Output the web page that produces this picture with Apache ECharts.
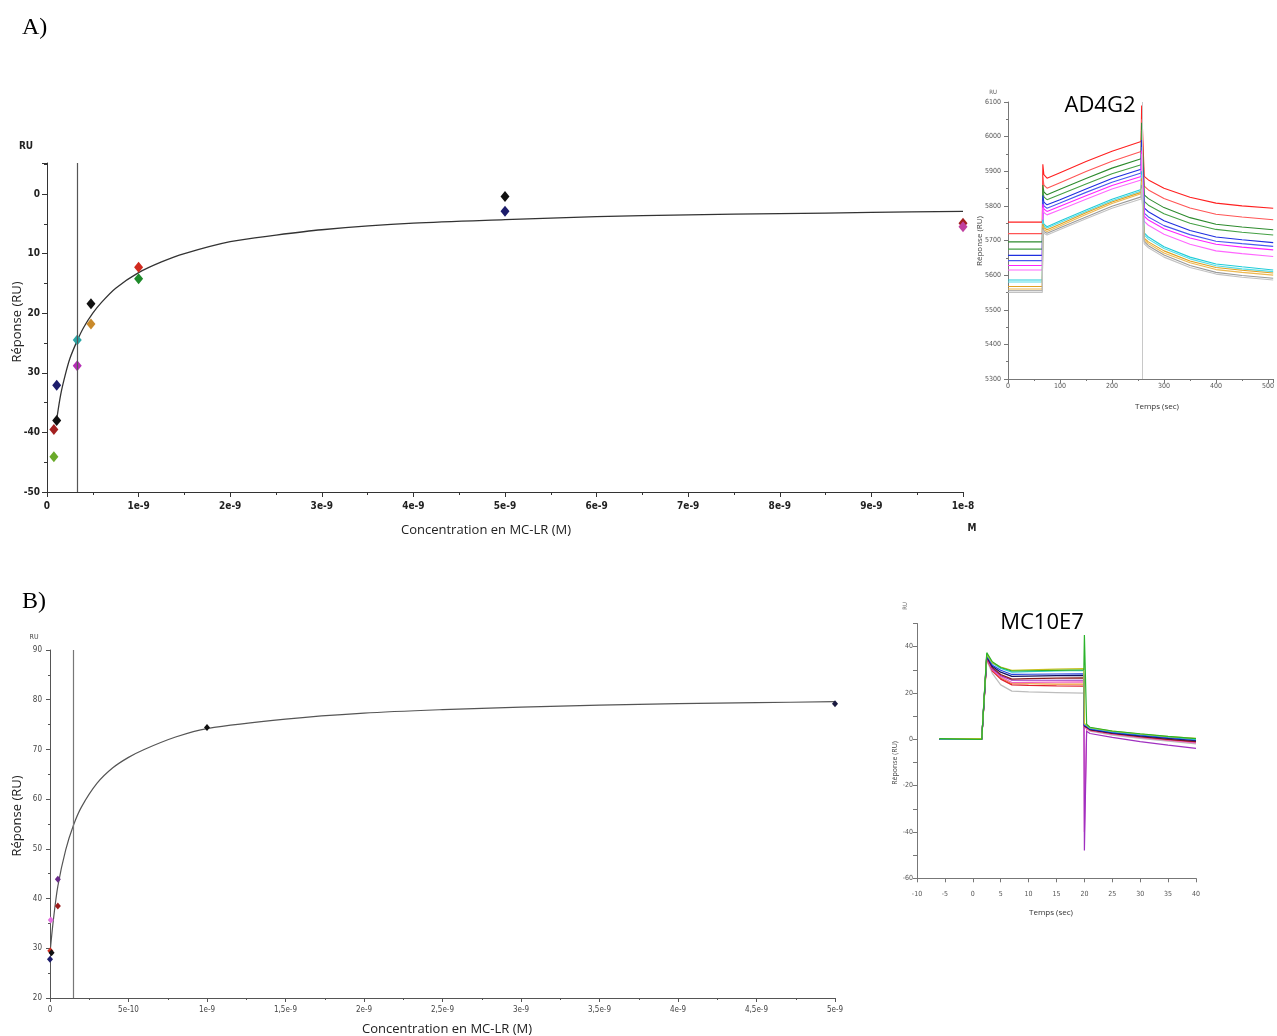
<!DOCTYPE html>
<html>
<head>
<meta charset="utf-8">
<script src="https://cdn.jsdelivr.net/npm/echarts@6/dist/echarts.min.js"></script>
<style>
html,body{margin:0;padding:0;background:#fff;}
#c{width:1277px;height:1036px;}
</style>
</head>
<body>
<div id="c"></div>
<script>
// ---------- Panel A (AD4G2) : steady-state affinity ----------
const aConc = [0.075, 0.075, 0.106, 0.106, 0.33, 0.33, 0.48, 0.48, 1, 1, 5, 5, 10, 10]; // nM
const aResp = [-44.1, -39.5, -38.0, -32.1, -28.8, -24.5, -18.4, -21.8, -12.3, -14.2, -0.4, -2.9, -4.9, -5.5];
const aPointColors = ['#6aaa2a','#a31f1f','#111111','#1c1c6b','#b52fb5','#2aa5a5','#111111','#c98a2b','#d12a1e','#1e8a2a','#111111','#1c1c6b','#a31f1f','#c040a0'];
const aFitX = [0.106, 0.15, 0.2, 0.25, 0.33, 0.4, 0.5, 0.6, 0.75, 1.0, 1.25, 1.5, 2.0, 2.5, 3.0, 4.0, 5.0, 6.0, 7.0, 8.0, 9.0, 10.0];
const aFitY = [-37.8, -33.6, -30.3, -27.6, -24.6, -22.4, -20.0, -18.1, -15.8, -13.2, -11.4, -10.0, -8.0, -6.9, -6.0, -4.9, -4.3, -3.8, -3.5, -3.3, -3.1, -2.9];
const aKD = 0.33;
const aXTickVals = [0,1,2,3,4,5,6,7,8,9,10];
const aXTickLabels = ['0','1e-9','2e-9','3e-9','4e-9','5e-9','6e-9','7e-9','8e-9','9e-9','1e-8'];
const aYTickVals = [0,-10,-20,-30,-40,-50];
const aYTickLabels = ['0','10','20','30','-40','-50'];

// ---------- Panel A sensorgram (AD4G2) ----------
const sgATime = [0, 66, 67, 69, 75, 100, 150, 200, 256, 257, 262, 270, 300, 350, 400, 450, 510];
const sgA1  = [5753,5753,5920,5890,5880,5896,5928,5958,5986,6090,5885,5875,5851,5825,5808,5800,5793];
const sgA2  = [5720,5720,5885,5860,5851,5867,5899,5929,5957,6050,5857,5846,5821,5794,5776,5768,5760];
const sgA3  = [5696,5696,5860,5840,5832,5848,5879,5909,5936,6040,5832,5821,5795,5766,5747,5739,5731];
const sgA4  = [5675,5675,5845,5826,5818,5833,5863,5893,5919,6020,5813,5802,5777,5750,5732,5724,5716];
const sgA5  = [5657,5657,5830,5811,5803,5818,5849,5879,5906,5990,5794,5783,5757,5729,5710,5702,5694];
const sgA6  = [5642,5642,5815,5800,5793,5808,5839,5868,5895,5970,5779,5768,5743,5717,5698,5691,5683];
const sgA7  = [5628,5628,5805,5791,5784,5799,5829,5859,5885,5960,5770,5759,5734,5707,5689,5681,5673];
const sgA8  = [5615,5615,5795,5781,5774,5789,5819,5849,5875,5950,5755,5744,5718,5689,5670,5662,5654];
const sgA9  = [5586,5586,5760,5747,5740,5756,5788,5819,5847,5900,5722,5710,5682,5652,5632,5624,5615];
const sgA10 = [5580,5580,5755,5742,5736,5752,5784,5815,5843,5890,5716,5704,5677,5647,5627,5618,5610];
const sgA11 = [5567,5567,5748,5737,5731,5747,5780,5811,5839,5880,5707,5696,5670,5641,5622,5614,5606];
const sgA12 = [5560,5560,5742,5731,5726,5742,5775,5807,5835,5870,5702,5691,5664,5636,5616,5608,5600];
const sgA13 = [5555,5555,5737,5726,5721,5737,5768,5799,5826,5860,5697,5685,5658,5628,5608,5599,5591];
const sgA14 = [5550,5550,5732,5721,5716,5732,5763,5793,5820,5850,5690,5679,5652,5622,5603,5594,5586];
const sgACurves = [sgA1,sgA2,sgA3,sgA4,sgA5,sgA6,sgA7,sgA8,sgA9,sgA10,sgA11,sgA12,sgA13,sgA14];
const sgAColors = ['#ff2020','#ff5555','#2e8b2e','#45a045','#1f2fe0','#4a58f0','#ff22ff','#ff66ff','#20ccd8','#55dde5','#e0a020','#ecb850','#9a9a9a','#c2c2c2'];
const sgAInjEnd = 258;
const sgAXTickVals = [0,100,200,300,400,500];
const sgAXTickLabels = ['0','100','200','300','400','500'];
const sgAYTickVals = [5300,5400,5500,5600,5700,5800,5900,6000,6100];
const sgAYTickLabels = ['5300','5400','5500','5600','5700','5800','5900','6000','6100'];

// ---------- Panel B (MC10E7) : steady-state affinity ----------
const bConc = [0.0, 0.002, 0.01, 0.005, 0.05, 0.05, 1, 5]; // nM
const bResp = [27.8, 29.5, 29.1, 35.7, 43.9, 38.5, 74.4, 79.2];
const bPointColors = ['#1c1c6b','#d12a1e','#111111','#e36fe0','#6a2a8a','#9b1c1c','#111111','#1a1a40'];
const bFitX = [0, 0.02, 0.05, 0.1, 0.15, 0.2, 0.3, 0.4, 0.5, 0.6, 0.8, 1.0, 1.5, 2.0, 2.5, 3.0, 3.5, 4.0, 4.5, 5.0];
const bFitY = [29.0, 35.3, 42.5, 49.8, 54.8, 58.4, 63.2, 66.3, 68.4, 70.0, 72.5, 74.2, 76.1, 77.3, 78.0, 78.5, 78.9, 79.2, 79.4, 79.6];
const bKD = 0.15;
const bXTickVals = [0,0.5,1,1.5,2,2.5,3,3.5,4,4.5,5];
const bXTickLabels = ['0','5e-10','1e-9','1,5e-9','2e-9','2,5e-9','3e-9','3,5e-9','4e-9','4,5e-9','5e-9'];
const bYTickVals = [20,30,40,50,60,70,80,90];
const bYTickLabels = ['20','30','40','50','60','70','80','90'];

// ---------- Panel B sensorgram (MC10E7) ----------
const sgBTime = [-6, 1.6, 2.5, 3.5, 5, 7, 10, 15, 19.9, 20, 20.4, 21, 25, 30, 35, 40];
const sgB1  = [0.3,0,37.4,33.5,31.0,29.5,29.6,29.8,30.0,45.0,6.5,5.2,3.6,2.4,1.3,0.3];
const sgB2  = [0.3,0.3,36.8,33.0,31.2,29.8,30.0,30.3,30.5,6.8,6.2,5.0,3.5,2.3,1.2,0.4];
const sgB3  = [0.2,0.2,36.5,32.8,30.6,29.0,29.2,29.5,29.7,6.5,6.0,4.8,3.3,2.1,1.0,0.0];
const sgB4  = [0,0,36.2,32.0,29.8,28.0,28.1,28.2,28.3,6.2,5.6,4.5,3.0,1.8,0.7,-0.3];
const sgB5  = [0,0,36.0,31.5,29.0,27.2,27.3,27.5,27.6,6.0,5.4,4.3,2.8,1.5,0.4,-0.6];
const sgB6  = [0,0,35.5,31.0,28.0,26.0,26.2,26.4,26.5,5.8,5.2,4.1,2.5,1.2,0.0,-1.0];
const sgB7  = [0,0,35.3,30.5,27.5,25.5,25.5,25.5,25.5,-48.0,3.5,2.5,0.8,-1.0,-2.5,-3.9];
const sgB8  = [0,0,35.0,30.0,27.0,24.5,24.6,24.7,24.8,-40.0,4.8,3.8,2.2,0.8,-0.4,-1.5];
const sgB9  = [0,0,34.8,29.5,26.0,23.5,23.3,23.1,23.0,5.5,5.0,3.9,2.3,0.9,-0.3,-1.2];
const sgB10 = [0,0,35.0,30.0,26.5,24.0,24.0,23.8,23.8,5.5,5.1,4.0,2.4,1.0,-0.2,-1.0];
const sgB11 = [0,0,34.0,28.5,23.5,20.8,20.5,20.2,19.9,5.0,4.6,3.5,1.8,0.4,-0.8,-2.0];
const sgBCurves = [sgB11,sgB10,sgB9,sgB8,sgB7,sgB6,sgB5,sgB4,sgB3,sgB2,sgB1];
const sgBColors = ['#bdbdbd','#f09030','#e02030','#f060c0','#a030c0','#8b1a1a','#101060','#2040e0','#30c8d8','#c8c020','#2bb32b'];
const sgBXTickVals = [-10,-5,0,5,10,15,20,25,30,35,40];
const sgBXTickLabels = ['-10','-5','0','5','10','15','20','25','30','35','40'];
const sgBYTickVals = [-60,-40,-20,0,20,40];
const sgBYTickLabels = ['-60','-40','-20','0','20','40'];

// ---------- helpers ----------
function lookup(vals, labels) {
  return function (v) {
    for (let i = 0; i < vals.length; i++) if (Math.abs(vals[i] - v) < 1e-6) return labels[i];
    return '';
  };
}
function zip(xs, ys) { return xs.map((x, i) => [x, ys[i]]); }

const chart = echarts.init(document.getElementById('c'), null, {renderer: 'canvas'});

const narrow = '"Liberation Sans Narrow","DejaVu Sans Condensed","Liberation Sans",sans-serif';
const sans = '"Open Sans","Noto Sans",sans-serif';

function axisCommon(color, tickLen, minorLen, labelSize, labelColor, margin, bold) {
  return {
    axisLine: {show: true, onZero: false, lineStyle: {color: color, width: 1}},
    axisTick: {show: true, length: tickLen, lineStyle: {color: color}},
    minorTick: {show: true, splitNumber: 2, length: minorLen, lineStyle: {color: color}},
    splitLine: {show: false},
    axisLabel: {fontSize: labelSize, color: labelColor, margin: margin, fontFamily: narrow, fontWeight: bold ? 'bold' : 'normal'}
  };
}

const grids = [
  {left: 47, top: 163, width: 916, height: 329},
  {left: 1008, top: 102, width: 269, height: 277},
  {left: 50, top: 650, width: 785, height: 348},
  {left: 917, top: 623.5, width: 279, height: 254.8}
];

function mkAxis(base, extra, fmt) {
  const o = Object.assign({}, base, extra);
  o.axisLabel = Object.assign({}, base.axisLabel, {formatter: fmt});
  return o;
}

const xAxes = [
  mkAxis(axisCommon('#333', 5, 3, 10, '#222', 9, true), {type: 'value', gridIndex: 0, min: 0, max: 10, interval: 1}, lookup(aXTickVals, aXTickLabels)),
  mkAxis(axisCommon('#777', 4, 2, 7, '#555', 4, false), {type: 'value', gridIndex: 1, min: 0, max: 510, interval: 100}, lookup(sgAXTickVals, sgAXTickLabels)),
  mkAxis(axisCommon('#555', 4, 2, 8, '#444', 8, false), {type: 'value', gridIndex: 2, min: 0, max: 5, interval: 0.5}, lookup(bXTickVals, bXTickLabels)),
  mkAxis(axisCommon('#777', 4, 2, 7, '#555', 12, false), {type: 'value', gridIndex: 3, min: -10, max: 40, interval: 5}, lookup(sgBXTickVals, sgBXTickLabels))
];
xAxes[3].minorTick.show = false;
const yAxes = [
  mkAxis(axisCommon('#333', 5, 3, 10, '#222', 7, true), {type: 'value', gridIndex: 0, min: -50, max: 5.2, interval: 10}, lookup(aYTickVals, aYTickLabels)),
  mkAxis(axisCommon('#777', 4, 2, 7, '#555', 7, false), {type: 'value', gridIndex: 1, min: 5300, max: 6100, interval: 100}, lookup(sgAYTickVals, sgAYTickLabels)),
  mkAxis(axisCommon('#555', 4, 2, 8, '#444', 8, false), {type: 'value', gridIndex: 2, min: 20, max: 90, interval: 10}, lookup(bYTickVals, bYTickLabels)),
  mkAxis(axisCommon('#777', 4, 2, 7, '#555', 4, false), {type: 'value', gridIndex: 3, min: -60, max: 50, interval: 10}, lookup(sgBYTickVals, sgBYTickLabels))
];
yAxes[3].minorTick.show = false;

const series = [];
// Panel A fit + KD line
series.push({
  type: 'line', xAxisIndex: 0, yAxisIndex: 0, data: zip(aFitX, aFitY), showSymbol: false,
  smooth: 0.3, lineStyle: {color: '#333', width: 1.3}, z: 2,
  markLine: {silent: true, symbol: 'none', label: {show: false}, lineStyle: {color: '#555', width: 1.2, type: 'solid'}, data: [{xAxis: aKD}]}
});
series.push({
  type: 'scatter', xAxisIndex: 0, yAxisIndex: 0, symbol: 'diamond', symbolSize: [9, 11], z: 3,
  data: aConc.map((c, i) => ({value: [c, aResp[i]], itemStyle: {color: aPointColors[i], opacity: 1}}))
});
// Panel A sensorgram
sgACurves.forEach((cv, i) => {
  const s = {type: 'line', xAxisIndex: 1, yAxisIndex: 1, data: zip(sgATime, cv), showSymbol: false,
    lineStyle: {color: sgAColors[i], width: 1.1}, z: 2};
  if (i === sgACurves.length - 1) {
    s.markLine = {silent: true, symbol: 'none', label: {show: false}, lineStyle: {color: '#c8c8c8', width: 1, type: 'solid'}, data: [{xAxis: sgAInjEnd}]};
  }
  series.push(s);
});
// Panel B fit + KD line
series.push({
  type: 'line', xAxisIndex: 2, yAxisIndex: 2, data: zip(bFitX, bFitY), showSymbol: false,
  smooth: 0.3, lineStyle: {color: '#555', width: 1.2}, z: 2,
  markLine: {silent: true, symbol: 'none', label: {show: false}, lineStyle: {color: '#777', width: 1.2, type: 'solid'}, data: [{xAxis: bKD}]}
});
series.push({
  type: 'scatter', xAxisIndex: 2, yAxisIndex: 2, symbol: 'diamond', symbolSize: [6, 7], z: 3,
  data: bConc.map((c, i) => ({value: [c, bResp[i]], itemStyle: {color: bPointColors[i], opacity: 1}}))
});
// Panel B sensorgram
sgBCurves.forEach((cv, i) => {
  series.push({type: 'line', xAxisIndex: 3, yAxisIndex: 3, data: zip(sgBTime, cv), showSymbol: false,
    lineStyle: {color: sgBColors[i], width: 1.2}, z: 2});
});

const graphic = [
  {type: 'text', x: 22, y: 28, style: {text: 'A)', font: '24px "Liberation Serif",serif', fill: '#000', align: 'left', verticalAlign: 'middle'}},
  {type: 'text', x: 22, y: 602, style: {text: 'B)', font: '24px "Liberation Serif",serif', fill: '#000', align: 'left', verticalAlign: 'middle'}},
  // Panel A labels
  {type: 'text', x: 26, y: 146, style: {text: 'RU', font: 'bold 10px ' + narrow, fill: '#222', align: 'center', verticalAlign: 'middle'}},
  {type: 'text', x: 17, y: 322, rotation: Math.PI / 2, style: {text: 'Réponse (RU)', font: '13px ' + sans, fill: '#222', align: 'center', verticalAlign: 'middle'}},
  {type: 'text', x: 486, y: 530, style: {text: 'Concentration en MC-LR (M)', font: '13px ' + sans, fill: '#222', align: 'center', verticalAlign: 'middle'}},
  {type: 'text', x: 972, y: 528, style: {text: 'M', font: 'bold 10px ' + narrow, fill: '#222', align: 'center', verticalAlign: 'middle'}},
  // Panel A sensorgram labels
  {type: 'text', x: 993, y: 92, style: {text: 'RU', font: '6px ' + narrow, fill: '#555', align: 'center', verticalAlign: 'middle'}},
  {type: 'text', x: 1100, y: 106, style: {text: 'AD4G2', font: '22px ' + sans, fill: '#000', align: 'center', verticalAlign: 'middle'}},
  {type: 'text', x: 980, y: 241, rotation: Math.PI / 2, style: {text: 'Réponse (RU)', font: '8px ' + sans, fill: '#444', align: 'center', verticalAlign: 'middle'}},
  {type: 'text', x: 1157, y: 407, style: {text: 'Temps (sec)', font: '8px ' + sans, fill: '#333', align: 'center', verticalAlign: 'middle'}},
  // Panel B labels
  {type: 'text', x: 34, y: 637, style: {text: 'RU', font: '7px ' + narrow, fill: '#444', align: 'center', verticalAlign: 'middle'}},
  {type: 'text', x: 17, y: 816, rotation: Math.PI / 2, style: {text: 'Réponse (RU)', font: '13px ' + sans, fill: '#222', align: 'center', verticalAlign: 'middle'}},
  {type: 'text', x: 447, y: 1029, style: {text: 'Concentration en MC-LR (M)', font: '13px ' + sans, fill: '#222', align: 'center', verticalAlign: 'middle'}},
  // Panel B sensorgram labels
  {type: 'text', x: 905, y: 606, rotation: Math.PI / 2, style: {text: 'RU', font: '6px ' + narrow, fill: '#666', align: 'center', verticalAlign: 'middle'}},
  {type: 'text', x: 1042, y: 623, style: {text: 'MC10E7', font: '22px ' + sans, fill: '#000', align: 'center', verticalAlign: 'middle'}},
  {type: 'text', x: 895, y: 763, rotation: Math.PI / 2, style: {text: 'Réponse (RU)', font: '7px ' + sans, fill: '#444', align: 'center', verticalAlign: 'middle'}},
  {type: 'text', x: 1051, y: 913, style: {text: 'Temps (sec)', font: '8px ' + sans, fill: '#333', align: 'center', verticalAlign: 'middle'}}
];

chart.setOption({
  animation: false,
  backgroundColor: '#ffffff',
  grid: grids,
  xAxis: xAxes,
  yAxis: yAxes,
  series: series,
  graphic: graphic
});
</script>
</body>
</html>
